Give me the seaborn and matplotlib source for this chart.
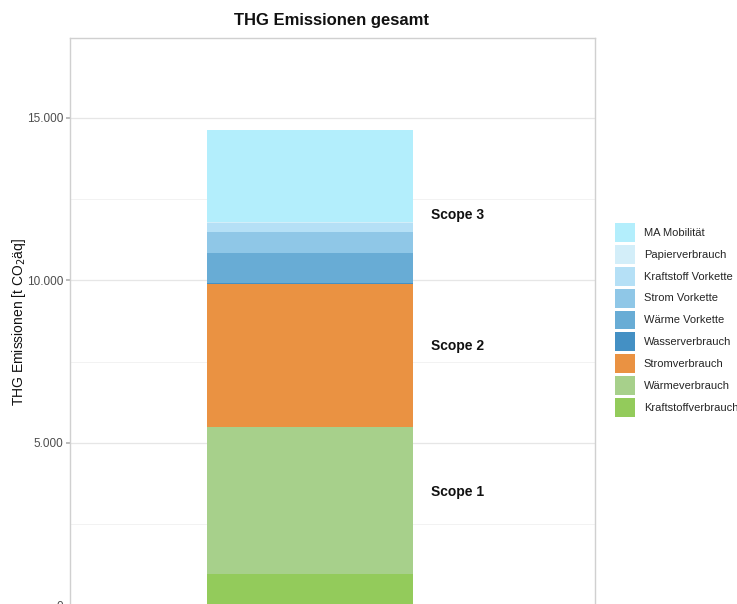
import pandas as pd
import seaborn as sns
import matplotlib.pyplot as plt
from matplotlib.patches import Patch
from matplotlib.ticker import FuncFormatter, MultipleLocator

# stacking order, bottom to top
categories = [
    "Kraftstoffverbrauch",
    "Wärmeverbrauch",
    "Stromverbrauch",
    "Wasserverbrauch",
    "Wärme Vorkette",
    "Strom Vorkette",
    "Kraftstoff Vorkette",
    "Papierverbrauch",
    "MA Mobilität",
]
values = [970, 4520, 4390, 40, 935, 635, 260, 40, 2830]
colors = [
    "#93cb5b",
    "#a7d08b",
    "#ea9242",
    "#4490c4",
    "#68acd5",
    "#8fc7e7",
    "#b5e0f6",
    "#d3eef9",
    "#b3eefc",
]
scope_labels = ["Scope 1", "Scope 2", "Scope 3"]
scope_y = [3490, 7985, 12015]

df = pd.DataFrame({"Kategorie": categories, "Wert": values, "Farbe": colors})
df["Basis"] = df["Wert"].cumsum() - df["Wert"]
df["Gruppe"] = "gesamt"

sns.set_theme(style="white")
plt.rcParams["font.family"] = ["Liberation Sans", "DejaVu Sans"]

fig = plt.figure(figsize=(7.37, 6.04), dpi=100)
ax = fig.add_axes([70 / 737, 1 - 629 / 604, 525 / 737, 591 / 604])

for _, row in df.iterrows():
    sns.barplot(x=[row["Gruppe"]], y=[row["Wert"]], bottom=row["Basis"],
                color=row["Farbe"], width=0.9, saturation=1, ax=ax,
                linewidth=0)

ax.set_xlim(-1.048, 1.245)
ax.set_ylim(-732, 17460)

ax.yaxis.set_major_locator(MultipleLocator(5000))
ax.yaxis.set_minor_locator(MultipleLocator(2500))
ax.yaxis.set_major_formatter(FuncFormatter(lambda v, p: f"{int(v):,}".replace(",", ".")))
ax.grid(axis="y", which="major", color="#e6e6e6", linewidth=0.9)
ax.grid(axis="y", which="minor", color="#f0f0f0", linewidth=0.6)
ax.grid(axis="x", visible=False)
ax.set_axisbelow(True)
ax.set_xticks([])
ax.tick_params(axis="y", which="major", length=3, color="#b3b3b3",
               labelsize=8.5, labelcolor="#4d4d4d", left=True, pad=2)
ax.tick_params(axis="y", which="minor", length=0)
for s in ax.spines.values():
    s.set_color("#d0d0d0")
    s.set_linewidth(1.0)

for lab, y in zip(scope_labels, scope_y):
    ax.text(0.529, y, lab, fontsize=10, fontweight="bold", va="center",
            ha="left", color="#111111")

ax.set_xlabel("")
ax.set_ylabel("THG Emissionen [t CO$_2$äq]", fontsize=10, color="#111111")
ax.yaxis.set_label_coords(-0.080, 0.52)
fig.text(332 / 737, 1 - 20 / 604, "THG Emissionen gesamt", fontsize=12,
         fontweight="bold", ha="center", va="center", color="#111111")

handles = [Patch(facecolor=c, edgecolor="none", label=l)
           for l, c in zip(categories[::-1], colors[::-1])]
fig.legend(handles=handles, loc="center left", bbox_to_anchor=(615 / 737, 1 - 320 / 604),
           frameon=False, fontsize=8, handlelength=1.8, handleheight=2.25,
           labelspacing=0.27, handletextpad=0.8, borderaxespad=0, borderpad=0)

plt.savefig("out.png", dpi=100)
plt.close()
